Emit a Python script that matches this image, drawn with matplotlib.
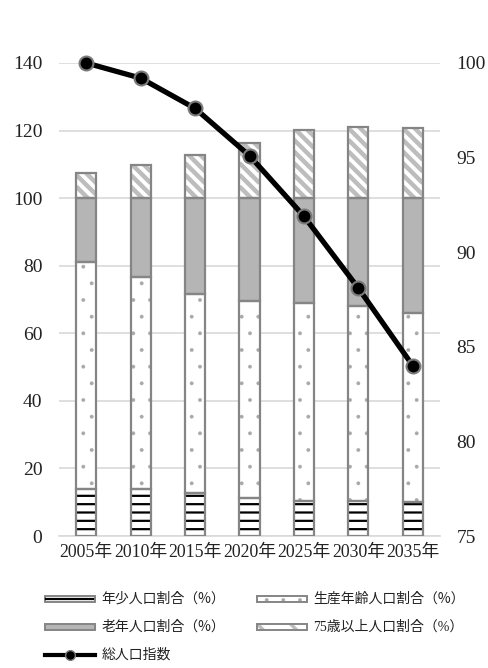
import matplotlib.pyplot as plt
import numpy as np

plt.rcParams['font.family'] = ['Liberation Serif', 'Noto Sans CJK JP']

years = ['2005年', '2010年', '2015年', '2020年', '2025年', '2030年', '2035年']
young = [14.0, 13.9, 12.8, 11.3, 10.5, 10.4, 10.2]
working = [67.2, 62.8, 58.8, 58.4, 58.6, 57.8, 55.9]
old = [18.8, 23.3, 28.4, 30.3, 30.9, 31.8, 33.9]
over75 = [7.5, 9.8, 12.8, 16.4, 20.2, 21.2, 20.7]
total_idx = [100.0, 99.2, 97.6, 95.1, 91.9, 88.1, 84.0]

x = np.arange(len(years))
w = 0.37
edge = '#858585'
stripe = '#bdbdbd'

fig = plt.figure(figsize=(4.89, 6.68), dpi=100)
ax = fig.add_axes([0.1207, 0.1976, 0.7791, 0.7081])

b1 = np.array(young)
b2 = b1 + np.array(working)
b3 = b2 + np.array(old)

ax.set_ylim(0, 140)
ax.set_xlim(-0.5, len(years) - 0.5)

# 年少: 横線
plt.rcParams['hatch.linewidth'] = 1.6
ax.bar(x, young, w, color='white', edgecolor='black', hatch='--', linewidth=0, zorder=2)
# 生産年齢: 点
plt.rcParams['hatch.linewidth'] = 0.3
ax.bar(x, working, w, bottom=b1, color='white', edgecolor='#a8a8a8', hatch='.', linewidth=0, zorder=2)
# 老年
ax.bar(x, old, w, bottom=b2, color='#b5b5b5', linewidth=0, zorder=2)
# 75歳以上: 斜線 (棒でクリップ)
top_bars = ax.bar(x, over75, w, bottom=b3, color='white', linewidth=0, zorder=2)
p0 = ax.transData.transform((0, 0))
px_x = ax.transData.transform((1, 0))[0] - p0[0]
px_y = ax.transData.transform((0, 1))[1] - p0[1]
gap = 11.7 / px_y
slope = px_x / px_y
for rect, xi, yb, h in zip(top_bars, x, b3, over75):
    xl, xr = xi - w / 2, xi + w / 2
    k = yb - slope * w
    while k < yb + h + slope * w:
        ln, = ax.plot([xl, xr], [k + slope * w, k], color=stripe, linewidth=3.2,
                      solid_capstyle='butt', zorder=2.5)
        ln.set_clip_path(rect)
        k += gap

# 枠線
for vals, bot in [(young, 0), (working, b1), (old, b2), (over75, b3)]:
    ax.bar(x, vals, w, bottom=bot, fill=False, edgecolor=edge, linewidth=1.6, zorder=3)

ax.set_yticks(range(0, 141, 20))
ax.grid(axis='y', color='#d9d9d9', linewidth=1.2, zorder=0)
ax.set_axisbelow(True)
for s in ['top', 'right', 'left']:
    ax.spines[s].set_visible(False)
ax.spines['bottom'].set_color('#d9d9d9')
ax.spines['bottom'].set_linewidth(1.2)
ax.set_xticks(x)
ax.set_xticklabels(years)
ax.tick_params(axis='y', length=0, pad=12, labelsize=14, labelcolor='#222222')
ax.tick_params(axis='x', length=0, pad=6, labelsize=12.8, labelcolor='#222222')

ax2 = ax.twinx()
ax2.set_ylim(75, 100)
ax2.set_yticks(range(75, 101, 5))
for s in ax2.spines.values():
    s.set_visible(False)
ax2.tick_params(axis='y', length=0, pad=12, labelsize=14, labelcolor='#222222')
ax2.plot(x, total_idx, color='black', linewidth=3.8, marker='o', markersize=10,
         markerfacecolor='black', markeredgecolor='#7a7a7a', markeredgewidth=1.5,
         clip_on=False, zorder=5)

# 凡例
lx1, lx2, lw = 0.092, 0.526, 0.102
ys = [1 - 599 / 668, 1 - 627 / 668, 1 - 655 / 668]
hh = 6 / 668
fkw = dict(fontsize=10, va='center', color='#222222', family=['Noto Sans CJK JP', 'Liberation Serif'])

def swatch(xl, y, face, ec, hatch=None, hc=None):
    if hatch:
        fig.patches.append(plt.Rectangle((xl, y - hh / 2), lw, hh, transform=fig.transFigure,
                                         facecolor=face, edgecolor=hc, hatch=hatch, linewidth=0))
    fig.patches.append(plt.Rectangle((xl, y - hh / 2), lw, hh, transform=fig.transFigure,
                                     facecolor=face if not hatch else 'none', edgecolor=ec, linewidth=1.4))

swatch(lx1, ys[0], 'white', edge)
fig.add_artist(plt.Line2D([lx1 + 0.003, lx1 + lw - 0.003], [ys[0], ys[0]], transform=fig.transFigure,
                          color='black', linewidth=1.6))
plt.rcParams['hatch.linewidth'] = 0.3
swatch(lx2, ys[0], 'white', edge, '.', '#a8a8a8')
swatch(lx1, ys[1], '#b5b5b5', edge)
plt.rcParams['hatch.linewidth'] = 2.5
swatch(lx2, ys[1], 'white', edge, '\\', stripe)

fig.text(lx1 + lw + 0.014, ys[0], '年少人口割合（%）', **fkw)
fig.text(lx2 + lw + 0.012, ys[0], '生産年齢人口割合（%）', **fkw)
fig.text(lx1 + lw + 0.014, ys[1], '老年人口割合（%）', **fkw)
fig.text(lx2 + lw + 0.012, ys[1], '75歳以上人口割合（%）',
         fontsize=10, va='center', color='#222222', family=['Liberation Serif', 'Noto Sans CJK JP'])
fig.add_artist(plt.Line2D([lx1, lx1 + lw], [ys[2], ys[2]], transform=fig.transFigure,
                          color='black', linewidth=3))
fig.add_artist(plt.Line2D([lx1 + lw / 2], [ys[2]], transform=fig.transFigure, marker='o',
                          markersize=7, markerfacecolor='black', markeredgecolor='#7a7a7a'))
fig.text(lx1 + lw + 0.014, ys[2], '総人口指数', **fkw)

fig.savefig('out.png', dpi=100)
